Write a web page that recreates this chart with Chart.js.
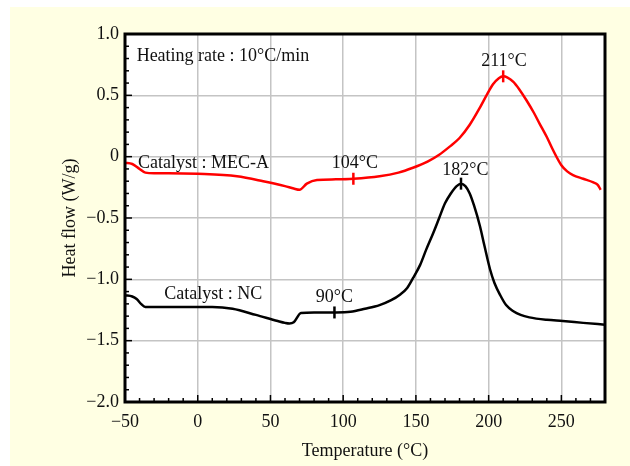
<!DOCTYPE html>
<html>
<head>
<meta charset="utf-8">
<script src="https://cdn.jsdelivr.net/npm/chart.js@4/dist/chart.umd.min.js"></script>
<style>
  html, body { margin: 0; padding: 0; background: #fff; }
  #wrap { position: absolute; left: 10px; top: 7px; width: 620px; height: 459px; background: #ffffe3; }
  #box { position: absolute; left: 0; top: 0; width: 630px; height: 466px; }
</style>
</head>
<body>
<div id="wrap"></div>
<div id="box"><canvas id="graph" width="630" height="466"></canvas></div>
<script>
// MEC-A curve (red)
var mecT = [-50, -45, -40, -36, -30, -20, 0, 27, 45, 60, 66, 70, 75, 82, 95, 107, 125, 138, 148, 158, 166, 173, 180, 187, 194, 199, 203, 207, 210, 213, 217, 221, 226, 231, 235, 240, 244, 250, 254, 258, 265, 272, 275, 277];
var mecH = [-0.05, -0.06, -0.10, -0.13, -0.135, -0.135, -0.14, -0.16, -0.20, -0.24, -0.26, -0.27, -0.22, -0.19, -0.185, -0.18, -0.16, -0.13, -0.09, -0.04, 0.016, 0.08, 0.152, 0.26, 0.40, 0.51, 0.59, 0.64, 0.655, 0.645, 0.61, 0.55, 0.46, 0.36, 0.27, 0.16, 0.06, -0.07, -0.12, -0.15, -0.18, -0.21, -0.23, -0.27];

// NC curve (black)
var ncT = [-50, -45, -42, -39, -36, -30, -10, 10, 24, 40, 55, 60, 63, 66, 71, 80, 95, 105, 115, 125, 133, 139, 144, 148, 153, 157, 162, 166, 170, 174, 178, 181, 184, 187, 190, 194, 197, 201, 204, 208, 212, 217, 222, 228, 240, 251, 265, 280];
var ncH = [-1.13, -1.14, -1.16, -1.20, -1.225, -1.225, -1.225, -1.225, -1.24, -1.29, -1.34, -1.355, -1.36, -1.35, -1.275, -1.27, -1.27, -1.265, -1.24, -1.21, -1.17, -1.125, -1.07, -0.99, -0.88, -0.76, -0.62, -0.50, -0.38, -0.30, -0.24, -0.22, -0.24, -0.30, -0.40, -0.565, -0.72, -0.92, -1.03, -1.13, -1.21, -1.26, -1.29, -1.31, -1.33, -1.34, -1.355, -1.37];

// peak markers
var mecPeaks = [{x: 107, y: -0.18}, {x: 210, y: 0.655}];
var ncPeaks = [{x: 94, y: -1.27}, {x: 181, y: -0.22}];

var xTicks = [-50, 0, 50, 100, 150, 200, 250];
var yTicks = [1.0, 0.5, 0, -0.5, -1.0, -1.5, -2.0];
var yTickLabels = ['1.0', '0.5', '0', '\u22120.5', '\u22121.0', '\u22121.5', '\u22122.0'];

// text notes anchored in data units
var notes = [
  {text: 'Heating rate : 10\u00b0C/min', x: -42, y: 0.815, align: 'left'},
  {text: 'Catalyst : MEC-A', x: -41, y: -0.05, align: 'left'},
  {text: '104\u00b0C', x: 108, y: -0.05, align: 'center'},
  {text: '211\u00b0C', x: 210.5, y: 0.78, align: 'center'},
  {text: '182\u00b0C', x: 184, y: -0.11, align: 'center'},
  {text: 'Catalyst : NC', x: -23, y: -1.125, align: 'left'},
  {text: '90\u00b0C', x: 94, y: -1.15, align: 'center'}
];

function pts(xs, ys) {
  var out = [];
  for (var i = 0; i < xs.length; i++) out.push({x: xs[i], y: ys[i]});
  return out;
}

var serif = '"Liberation Serif", "DejaVu Serif", serif';

var frame = {
  id: 'frame',
  afterDatasetsDraw: function(chart) {
    var c = chart.ctx, a = chart.chartArea;
    var sx = chart.scales.x, sy = chart.scales.y;
    c.save();
    // inward ticks
    c.strokeStyle = '#000';
    c.lineWidth = 1.5;
    for (var v = -50; v <= 280; v += 10) {
      var px = sx.getPixelForValue(v);
      var len = (v % 50 == 0) ? 7 : 4;
      c.beginPath(); c.moveTo(px, a.bottom); c.lineTo(px, a.bottom - len); c.stroke();
    }
    for (var k = -20; k <= 10; k++) {
      var py = sy.getPixelForValue(k / 10);
      var len2 = (k % 5 == 0) ? 7 : 4;
      c.beginPath(); c.moveTo(a.left, py); c.lineTo(a.left + len2, py); c.stroke();
    }
    c.lineWidth = 3;
    c.strokeRect(a.left, a.top, a.right - a.left, a.bottom - a.top);
    // notes
    c.fillStyle = '#111';
    c.font = '18px ' + serif;
    c.textBaseline = 'middle';
    notes.forEach(function(n) {
      c.textAlign = n.align;
      c.fillText(n.text, sx.getPixelForValue(n.x), sy.getPixelForValue(n.y));
    });
    // y axis title
    c.translate(70, (a.top + a.bottom) / 2);
    c.rotate(-Math.PI / 2);
    c.textAlign = 'center';
    c.fillText('Heat flow (W/g)', 0, 0);
    c.restore();
  }
};

var whiteArea = {
  id: 'whiteArea',
  beforeDraw: function(chart) {
    var a = chart.chartArea, c = chart.ctx;
    c.save();
    c.fillStyle = '#fff';
    c.fillRect(a.left, a.top, a.right - a.left, a.bottom - a.top);
    c.restore();
  }
};

new Chart(document.getElementById('graph').getContext('2d'), {
  type: 'scatter',
  data: {
    datasets: [
      {label: 'MEC-A', data: pts(mecT, mecH), showLine: true, borderColor: '#ff0000', borderWidth: 2.5, pointRadius: 0, cubicInterpolationMode: 'monotone'},
      {label: 'NC', data: pts(ncT, ncH), showLine: true, borderColor: '#000', borderWidth: 2.5, pointRadius: 0, cubicInterpolationMode: 'monotone'},
      {label: 'MEC-A peaks', data: mecPeaks, pointStyle: 'line', rotation: 90, pointRadius: 6, borderColor: '#ff0000', borderWidth: 2.5, backgroundColor: '#ff0000'},
      {label: 'NC peaks', data: ncPeaks, pointStyle: 'line', rotation: 90, pointRadius: 6, borderColor: '#000', borderWidth: 2.5, backgroundColor: '#000'}
    ]
  },
  options: {
    responsive: false,
    animation: false,
    layout: {padding: {left: 0, top: 34, right: 25, bottom: 0}},
    plugins: {legend: {display: false}, tooltip: {enabled: false}},
    scales: {
      x: {
        type: 'linear', min: -50, max: 280,
        afterBuildTicks: function(s) { s.ticks = xTicks.map(function(v) { return {value: v}; }); },
        afterFit: function(s) { s.height = 64; },
        grid: {color: '#c4c4c4', lineWidth: 1.5, drawTicks: false},
        border: {display: false},
        ticks: {
          color: '#111', padding: 9, maxRotation: 0,
          font: {family: serif, size: 18},
          callback: function(v) { return v < 0 ? '\u2212' + Math.abs(v) : '' + v; }
        },
        title: {display: true, text: 'Temperature (\u00b0C)', color: '#111', font: {family: serif, size: 18}, padding: {top: 0}}
      },
      y: {
        type: 'linear', min: -2, max: 1,
        afterBuildTicks: function(s) { s.ticks = yTicks.map(function(v) { return {value: v}; }); },
        afterFit: function(s) { s.width = 125; },
        grid: {color: '#c4c4c4', lineWidth: 1.5, drawTicks: false},
        border: {display: false},
        ticks: {
          color: '#111', padding: 6,
          font: {family: serif, size: 18},
          callback: function(v) { return yTickLabels[yTicks.indexOf(v)]; }
        }
      }
    }
  },
  plugins: [whiteArea, frame]
});
</script>
</body>
</html>
